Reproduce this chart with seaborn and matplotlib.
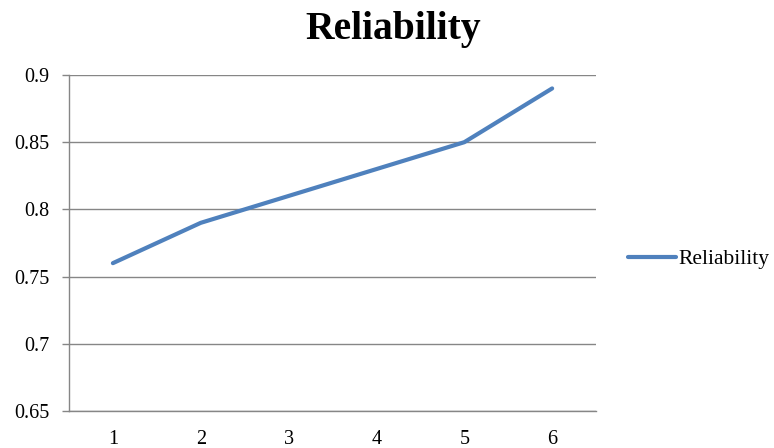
import matplotlib
matplotlib.use("Agg")
import matplotlib.pyplot as plt
import seaborn as sns
import pandas as pd
import numpy as np

categories = ["1", "2", "3", "4", "5", "6"]
reliability = [0.76, 0.79, 0.81, 0.83, 0.85, 0.89]
y_ticks = [0.65, 0.7, 0.75, 0.8, 0.85, 0.9]
y_tick_labels = ["0.65", "0.7", "0.75", "0.8", "0.85", "0.9"]

sns.set_theme(style="white")
plt.rcParams["font.family"] = ["Liberation Serif", "DejaVu Serif"]
plt.rcParams["text.color"] = "black"

df = pd.DataFrame({"pos": np.arange(len(categories)), "value": reliability,
                   "series": "Reliability"})

fig = plt.figure(figsize=(7.74, 4.48), dpi=100)
ax = fig.add_axes([0.0891, 0.0826, 0.681, 0.75])

grid_c = "#868686"
sns.lineplot(data=df, x="pos", y="value", hue="series", palette=["#4F81BD"],
             linewidth=3.0, ax=ax, legend=True)

ax.set_xlim(-0.5, len(categories) - 0.5)
ax.set_ylim(0.65, 0.9)
ax.set_yticks(y_ticks)
ax.set_yticklabels(y_tick_labels)
ax.set_xticks(np.arange(len(categories)))
ax.set_xticklabels(categories)
ax.set_xticks(np.arange(len(categories) + 1) - 0.5, minor=True)
ax.tick_params(axis="x", which="major", length=0, pad=13.5, labelsize=14.5, labelcolor="black")
ax.tick_params(axis="x", which="minor", length=5, width=1, color=grid_c, direction="out")
ax.tick_params(axis="y", which="major", length=5, width=1, color=grid_c, direction="out",
               labelsize=14.5, labelcolor="black", pad=9, left=True)
ax.yaxis.grid(True, color=grid_c, linewidth=1)
ax.set_axisbelow(True)
ax.set_xlabel("")
ax.set_ylabel("")
for s in ["top", "right"]:
    ax.spines[s].set_visible(False)
for s in ["left", "bottom"]:
    ax.spines[s].set_color(grid_c)
    ax.spines[s].set_linewidth(1)

handles, labels = ax.get_legend_handles_labels()
ax.legend(handles, labels, loc="center left", bbox_to_anchor=(0.8005, 0.4215),
          bbox_transform=fig.transFigure, frameon=False, fontsize=15.5,
          handlelength=2.2, handletextpad=0.12, borderaxespad=0,
          labelcolor="black")

fig.text(0.508, 0.935, "Reliability", ha="center", va="center",
         fontsize=28.5, fontweight="bold", color="black")

fig.savefig("out.png", dpi=100, facecolor="white")
